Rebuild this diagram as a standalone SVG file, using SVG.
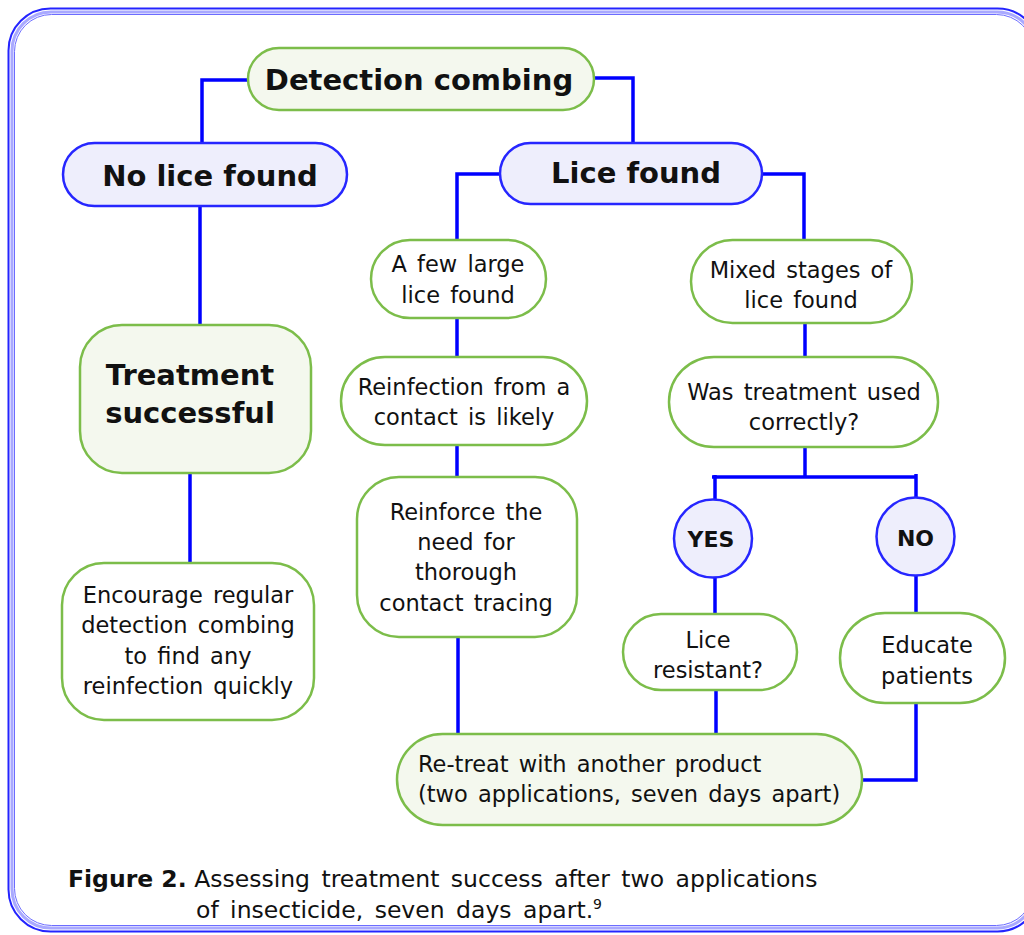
<svg xmlns="http://www.w3.org/2000/svg" width="1024" height="935" viewBox="0 0 1024 935">
<style>
  text { font-family: "DejaVu Sans", Verdana, sans-serif; fill: #111; }
  .t { font-size: 22.5px; text-anchor: middle; word-spacing: 3px; }
  .b { font-weight: bold; text-anchor: middle; }
  .g { fill: #ffffff; stroke: #7cbd4a; stroke-width: 2.5; }
  .gf { fill: #f4f8ee; stroke: #7cbd4a; stroke-width: 2.5; }
  .bl { fill: #eeeefc; stroke: #2626ff; stroke-width: 2.5; }
  .c { fill: none; stroke: #0000ff; stroke-width: 3.5; }
</style>
<rect width="1024" height="935" fill="#ffffff"/>
<g id="frame" fill="none">
  <rect x="8.5" y="8.5" width="1031" height="923" rx="42" stroke="#2424ff" stroke-width="2"/>
  <rect x="12" y="12" width="1024" height="916" rx="39" stroke="#a9a9ff" stroke-width="3"/>
  <rect x="14.5" y="14.5" width="1019" height="911" rx="37" stroke="#6c6cff" stroke-width="1"/>
</g>
<g id="connectors">
  <polyline class="c" points="248,80 202,80 202,143"/>
  <polyline class="c" points="594,78 633,78 633,143"/>
  <line class="c" x1="200" y1="206" x2="200" y2="325"/>
  <line class="c" x1="190" y1="473" x2="190" y2="563"/>
  <polyline class="c" points="500,174 457,174 457,240"/>
  <polyline class="c" points="762,174 804,174 804,240"/>
  <line class="c" x1="457" y1="318" x2="457" y2="357"/>
  <line class="c" x1="457" y1="445" x2="457" y2="477"/>
  <line class="c" x1="458" y1="637" x2="458" y2="735"/>
  <line class="c" x1="805" y1="323" x2="805" y2="357"/>
  <line class="c" x1="805" y1="447" x2="805" y2="477"/>
  <line class="c" x1="712" y1="477" x2="917" y2="477"/>
  <line class="c" x1="715" y1="475" x2="715" y2="500"/>
  <line class="c" x1="916" y1="474" x2="916" y2="498"/>
  <line class="c" x1="715" y1="577" x2="715" y2="615"/>
  <line class="c" x1="916" y1="575" x2="916" y2="614"/>
  <line class="c" x1="716" y1="690" x2="716" y2="735"/>
  <polyline class="c" points="916,703 916,780 862,780"/>
</g>
<g id="detection">
  <rect class="gf" x="248" y="48" width="346" height="62" rx="31"/>
  <text class="b" x="419" y="90" font-size="29">Detection combing</text>
</g>
<g id="no-lice">
  <rect class="bl" x="63" y="143" width="284" height="63" rx="31.5"/>
  <text class="b" x="210" y="186" font-size="29">No lice found</text>
</g>
<g id="lice-found">
  <rect class="bl" x="500" y="143" width="262" height="61" rx="30.5"/>
  <text class="b" x="636" y="183" font-size="29">Lice found</text>
</g>
<g id="treatment-successful">
  <rect class="gf" x="80" y="325" width="231" height="148" rx="42"/>
  <text class="b" x="190" y="385" font-size="29">Treatment</text>
  <text class="b" x="190" y="423" font-size="29">successful</text>
</g>
<g id="encourage">
  <rect class="g" x="62" y="563" width="252" height="157" rx="42"/>
  <text class="t" x="188" y="603">Encourage regular</text>
  <text class="t" x="188" y="633">detection combing</text>
  <text class="t" x="188" y="664">to find any</text>
  <text class="t" x="188" y="694">reinfection quickly</text>
</g>
<g id="few-large">
  <rect class="g" x="371" y="240" width="175" height="78" rx="39"/>
  <text class="t" x="458" y="272">A few large</text>
  <text class="t" x="458" y="303">lice found</text>
</g>
<g id="reinfection">
  <rect class="g" x="341" y="357" width="246" height="88" rx="44"/>
  <text class="t" x="464" y="395">Reinfection from a</text>
  <text class="t" x="464" y="425">contact is likely</text>
</g>
<g id="reinforce">
  <rect class="g" x="357" y="477" width="220" height="160" rx="42"/>
  <text class="t" x="466" y="520">Reinforce the</text>
  <text class="t" x="466" y="550">need for</text>
  <text class="t" x="466" y="580">thorough</text>
  <text class="t" x="466" y="611">contact tracing</text>
</g>
<g id="mixed">
  <rect class="g" x="691" y="240" width="221" height="83" rx="41.5"/>
  <text class="t" x="801" y="278">Mixed stages of</text>
  <text class="t" x="801" y="308">lice found</text>
</g>
<g id="was-treatment">
  <rect class="g" x="669" y="357" width="269" height="90" rx="45"/>
  <text class="t" x="804" y="400">Was treatment used</text>
  <text class="t" x="804" y="430">correctly?</text>
</g>
<g id="yes">
  <circle class="bl" cx="713" cy="538.5" r="39"/>
  <text class="b" x="711" y="547" font-size="22">YES</text>
</g>
<g id="no">
  <circle class="bl" cx="915.5" cy="536.5" r="39"/>
  <text class="b" x="915.5" y="546" font-size="22">NO</text>
</g>
<g id="lice-resistant">
  <rect class="g" x="623" y="614" width="174" height="76" rx="38"/>
  <text class="t" x="708" y="648">Lice</text>
  <text class="t" x="708" y="678">resistant?</text>
</g>
<g id="educate">
  <rect class="g" x="840" y="613" width="165" height="90" rx="45"/>
  <text class="t" x="927" y="653">Educate</text>
  <text class="t" x="927" y="684">patients</text>
</g>
<g id="retreat">
  <rect class="gf" x="397" y="734" width="465" height="91" rx="45.5"/>
  <text x="418" y="772" font-size="22.5" word-spacing="3">Re-treat with another product</text>
  <text x="418" y="802" font-size="22.5" word-spacing="3">(two applications, seven days apart)</text>
</g>
<g id="caption">
  <text x="68" y="887" font-size="23.5"><tspan font-weight="bold">Figure 2.</tspan> <tspan word-spacing="4">Assessing treatment success after two applications</tspan></text>
  <text x="196" y="918" font-size="23.5" word-spacing="4">of insecticide, seven days apart.<tspan font-size="14" dy="-9">9</tspan></text>
</g>
</svg>
